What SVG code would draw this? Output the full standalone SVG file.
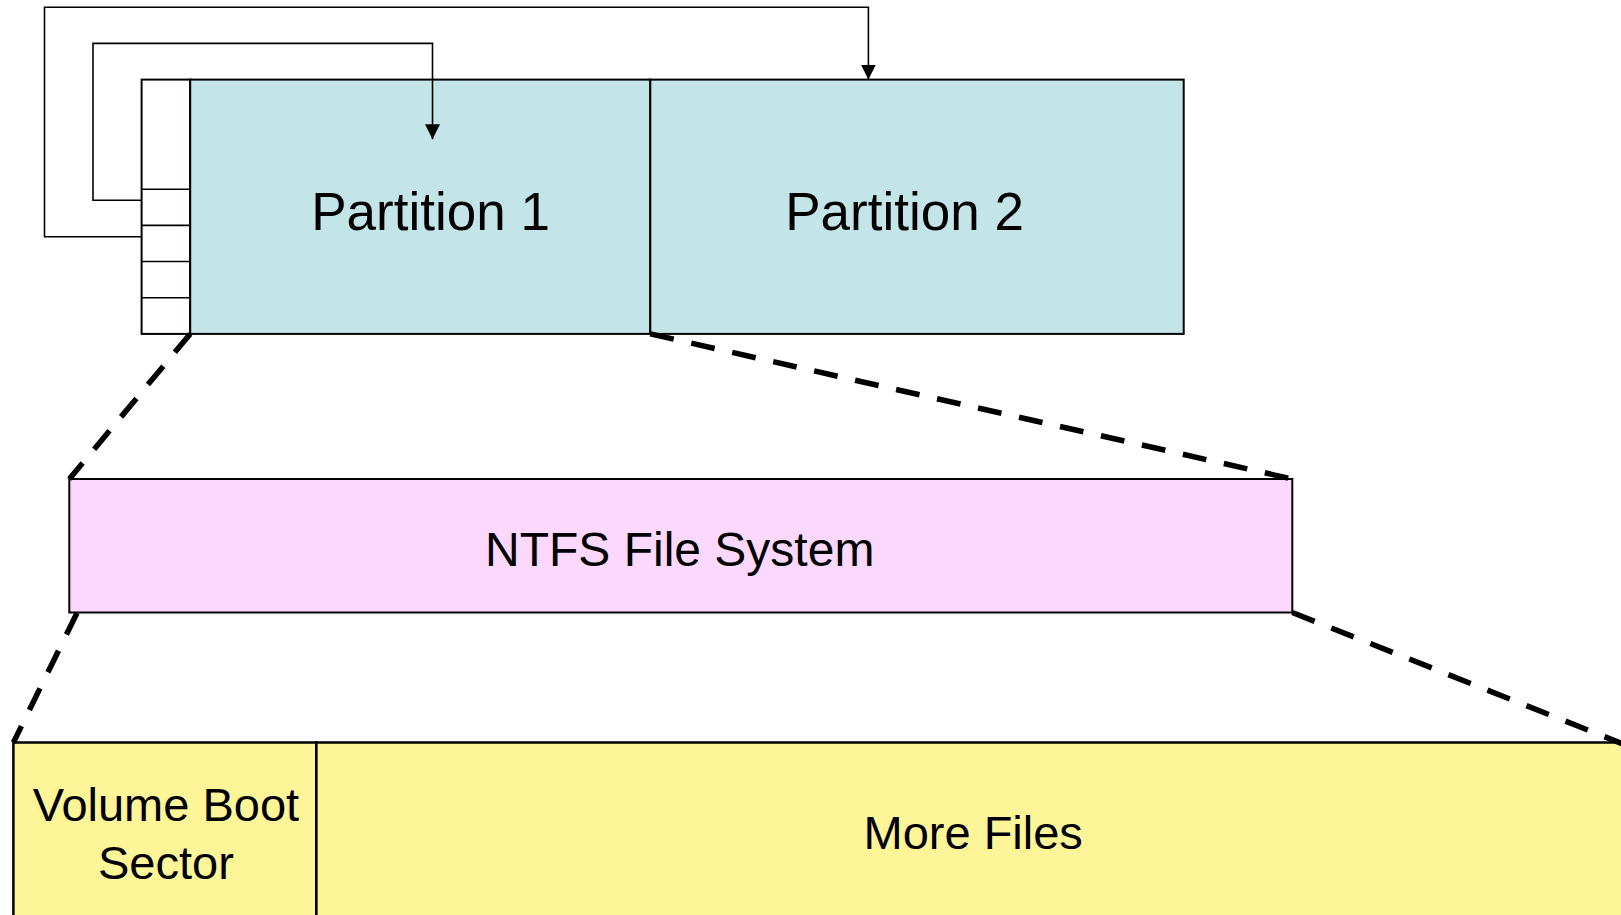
<svg xmlns="http://www.w3.org/2000/svg" width="1621" height="915" viewBox="0 0 1621 915">
<style>
.box{stroke:#000;stroke-width:2}
.part{fill:#C4E5E8}
.ntfs{fill:#FDD8FE}
.vol{fill:#FEF598;stroke-width:2.5}
.lbl{font-family:"Liberation Sans",Arial,sans-serif;fill:#000;text-anchor:middle}
.conn{fill:none;stroke:#000;stroke-width:1.6}
.dash{fill:none;stroke:#000;stroke-width:5.5;stroke-dasharray:24 18}
</style>
<defs>
<marker id="ah" markerUnits="userSpaceOnUse" markerWidth="16" markerHeight="16" refX="15" refY="7.5" orient="auto">
<path d="M0,0 L15,7.5 L0,15 Z" fill="#000"/>
</marker>
</defs>
<rect width="1621" height="915" fill="#fff"/>
<g id="mbr">
<rect class="box" x="141.6" y="79.6" width="48.6" height="254.3" fill="#fff"/>
<path d="M141.6,189.2 H190.2 M141.6,225.4 H190.2 M141.6,261.5 H190.2 M141.6,297.7 H190.2" stroke="#000" stroke-width="1.6"/>
</g>
<g id="partition1">
<rect class="box part" x="190.2" y="79.6" width="460.1" height="254.3"/>
<text class="lbl" x="430.6" y="230" font-size="53">Partition 1</text>
</g>
<g id="partition2">
<rect class="box part" x="650.3" y="79.6" width="533.4" height="254.3"/>
<text class="lbl" x="904.6" y="230" font-size="53">Partition 2</text>
</g>
<g id="ntfs">
<rect class="box ntfs" x="69.3" y="479" width="1223" height="133.5"/>
<text class="lbl" x="679.7" y="566" font-size="48">NTFS File System</text>
</g>
<g id="volumeboot">
<rect class="box vol" x="13.4" y="742.5" width="303" height="185"/>
<text class="lbl" x="165.9" y="820.7" font-size="47">Volume Boot</text>
<text class="lbl" x="165.9" y="879.3" font-size="47">Sector</text>
</g>
<g id="morefiles">
<rect class="box vol" x="316.4" y="742.5" width="1320" height="185"/>
<text class="lbl" x="973.2" y="849.3" font-size="47">More Files</text>
</g>
<g id="connectors">
<path class="conn" d="M141.6,200.3 H93 V43.4 H432.5 V139.3" marker-end="url(#ah)"/>
<path class="conn" d="M141.6,236.8 H44.5 V7.2 H868.4 V79.6" marker-end="url(#ah)"/>
<path class="dash" d="M190.2,333.9 L69.3,479"/>
<path class="dash" d="M650.3,333.9 L1292.3,479"/>
<path class="dash" d="M77,613 L13.4,742.5"/>
<path class="dash" d="M1292.3,612.5 L1623,744"/>
</g>
</svg>
